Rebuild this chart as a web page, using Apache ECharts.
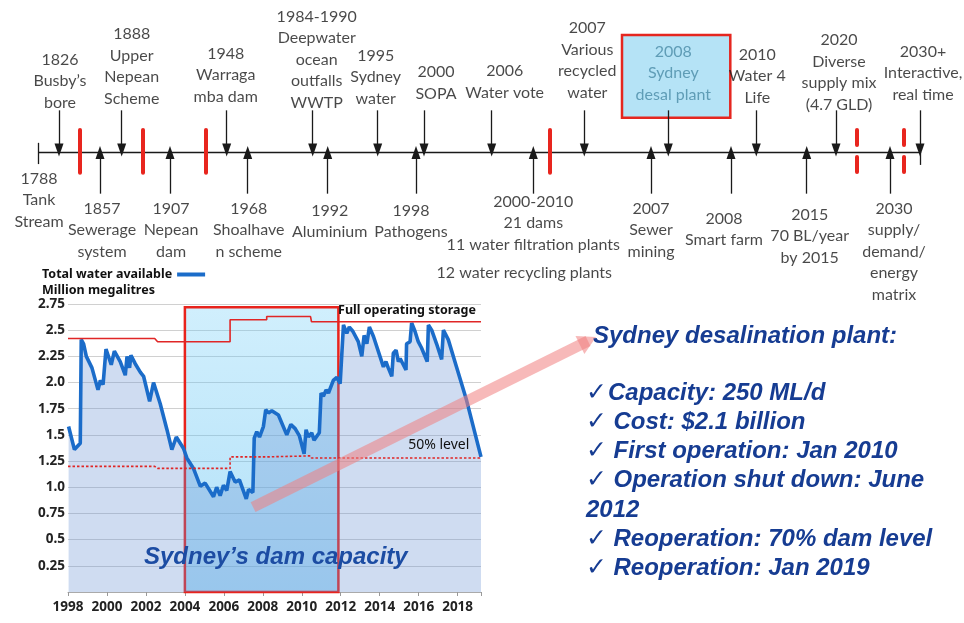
<!DOCTYPE html>
<html><head><meta charset="utf-8">
<script src="https://cdn.jsdelivr.net/npm/echarts@6/dist/echarts.min.js"></script>
<style>html,body{margin:0;padding:0;background:#fff}#c{width:964px;height:623px}</style>
</head><body><div id="c"></div>
<script>
// ---- Dam storage chart data ----
const waterYears = [1998.03,1998.33,1998.63,1998.68,1998.8,1998.94,1999.23,1999.54,1999.66,1999.8,1999.95,2000.22,2000.38,2000.68,2000.94,2001.03,2001.16,2001.23,2001.45,2001.71,2001.88,2002.19,2002.39,2002.73,2003.08,2003.33,2003.56,2003.93,2004.1,2004.44,2004.79,2005.04,2005.47,2005.63,2005.81,2005.98,2006.15,2006.32,2006.58,2006.8,2007.15,2007.27,2007.49,2007.56,2007.69,2007.83,2008.03,2008.15,2008.29,2008.46,2008.8,2009.23,2009.44,2009.66,2009.88,2010.12,2010.22,2010.34,2010.51,2010.63,2010.9,2010.99,2011.11,2011.25,2011.37,2011.62,2011.8,2011.97,2012.14,2012.31,2012.44,2012.62,2012.9,2013.08,2013.2,2013.34,2013.47,2013.68,2014.19,2014.32,2014.44,2014.62,2014.7,2014.84,2014.96,2015.05,2015.35,2015.38,2015.56,2015.64,2015.81,2015.98,2016.15,2016.44,2016.5,2016.67,2016.92,2017.18,2017.27,2017.52,2017.94,2018.46,2019.2];
const waterValues = [1.58,1.36,1.42,2.41,2.37,2.25,2.14,1.93,2.02,1.98,2.32,2.17,2.30,2.20,2.07,2.25,2.14,2.26,2.18,2.10,2.06,1.82,2.00,1.80,1.55,1.36,1.48,1.37,1.28,1.18,1.01,1.04,0.91,1.00,0.92,1.02,0.97,1.15,1.05,1.07,0.89,0.98,0.95,1.47,1.53,1.48,1.58,1.74,1.71,1.73,1.69,1.50,1.60,1.56,1.49,1.32,1.55,1.48,1.52,1.45,1.52,1.90,1.87,1.93,1.90,2.02,2.05,1.99,2.55,2.47,2.53,2.49,2.39,2.25,2.45,2.37,2.53,2.44,2.15,2.20,2.14,2.06,2.28,2.31,2.20,2.23,2.12,2.37,2.39,2.57,2.49,2.39,2.33,2.20,2.55,2.50,2.37,2.22,2.50,2.41,2.15,1.83,1.29];
const storageYears = [1998,2002.45,2002.6,2006.32,2006.32,2008.2,2008.2,2010.45,2010.5,2019.2];
const fullStorage = [2.42,2.42,2.39,2.39,2.60,2.60,2.63,2.63,2.58,2.58];
const halfStorage = [1.20,1.20,1.18,1.18,1.29,1.29,1.30,1.30,1.28,1.28];
const desalPeriod = [2004.0, 2011.88];
const xTickYears = [1998,2000,2002,2004,2006,2008,2010,2012,2014,2016,2018];

// ---- Timeline data (position along the timeline axis, 0 = 1788 start) ----
const topLabels = ['1826\nBusby’s\nbore','1888\nUpper\nNepean\nScheme','1948\nWarraga\nmba dam','1984-1990\nDeepwater\nocean\noutfalls\nWWTP','1995\nSydney\nwater','2000\nSOPA','2006\nWater vote','2007\nVarious\nrecycled\nwater','2008\nSydney\ndesal plant','2010\nWater 4\nLife','2020\nDiverse\nsupply mix\n(4.7 GLD)','2030+\nInteractive,\nreal time'];
const topAt = [2.1,8.37,18.87,27.47,33.97,38.6,45.37,54.63,63.03,71.83,79.8,88.2];
const topShift = [[1,3.4],[10,-0.5],[-1,-2.5],[4,3.4],[-2,-0.5],[12,-5.5],[13,-6.5],[3,-6.5],[5,-4.5],[1,-1.5],[3,5.5],[3,-4.5]];
const bottomLabels = ['1857\nSewerage\nsystem','1907\nNepean\ndam','1968\nShoalhave\nn scheme','1992\nAluminium','1998\nPathogens','2000-2010\n21 dams\n11 water filtration plants','2007\nSewer\nmining','2008\nSmart farm','2015\n70 BL/year\nby 2015','2030\nsupply/\ndemand/\nenergy\nmatrix'];
const bottomAt = [6.2,13.2,20.97,28.97,37.8,49.53,61.3,69.3,76.87,85.2];
const bottomShift = [[2,3.5],[1,3.5],[1,3.5],[2,5.5],[-5,5.5],[0,-3.5],[0,3.5],[-7,13.5],[3,9.5],[4,3.5]];
const startLabel = '1788\nTank\nStream';
const extraNote = '12 water recycling plants';
const extraNoteAt = 49.53;
const breakAt = [4.2,10.43,16.8,51.13];
const dashedBreakAt = [81.87,86.53];
const timelineEnd = 88.2;
const highlightIndex = 8;

// ---- Text panel ----
const desalTitle = 'Sydney desalination plant:';
const desalFacts = ['Capacity: 250 ML/d','Cost: $2.1 billion','First operation: Jan 2010','Operation shut down: June\n2012','Reoperation: 70% dam level','Reoperation: Jan 2019'];

const chart = echarts.init(document.getElementById('c'));
const tlFont = {fontFamily:'Lato', fontSize:16, lineHeight:21.5, color:'#1a1a1a'};
const blue = '#163c92';

const factsText = desalFacts.map((f,i)=> '{c|✓}' + (i===0?'':'{s| }') + f.split('\n').map(s=>'{t|'+s+'}').join('\n')).join('\n');

const labelData = [];
topLabels.forEach((t,i)=>labelData.push({name:t, value:[topAt[i],1], label:{position:'top', offset:topShift[i], color: i===highlightIndex ? '#4a8ba6' : '#1a1a1a'}}));
bottomLabels.forEach((t,i)=>labelData.push({name:t, value:[bottomAt[i],-1], label:{position:'bottom', offset:bottomShift[i]}}));
labelData.push({name:startLabel, value:[0,0], label:{position:'bottom', offset:[1,15.3]}});
labelData.push({name:extraNote, value:[extraNoteAt,-1], label:{position:'bottom', offset:[-9,68.3]}});

const arrowLines = [];
topAt.forEach(x=>arrowLines.push([{coord:[x,1]},{coord:[x,0.05]}]));
bottomAt.forEach(x=>arrowLines.push([{coord:[x,-1]},{coord:[x,-0.01]}]));
const breakLines = [];
breakAt.forEach(x=>breakLines.push([{coord:[x,0.53]},{coord:[x,-0.5]}]));
dashedBreakAt.forEach(x=>{breakLines.push([{coord:[x,0.53]},{coord:[x,0.17]}]);breakLines.push([{coord:[x,-0.12]},{coord:[x,-0.48]}]);});

const noEmph = {disabled:true};
const option = {
  animation:false,
  backgroundColor:'#fff',
  title:[
    {text:'Million megalitres', left:42, top:284, padding:0, textStyle:{fontFamily:'Noto Sans', fontWeight:'bold', fontSize:12.5, color:'#111'}},
    {text:'Sydney’s dam capacity', left:144, top:543, padding:0, textStyle:{fontFamily:'Liberation Sans', fontStyle:'italic', fontWeight:'bold', fontSize:24, lineHeight:28, color:'#1c4ca3'}},
    {text:desalTitle, left:593, top:322, padding:0, textStyle:{fontFamily:'Liberation Sans', fontStyle:'italic', fontWeight:'bold', fontSize:24, lineHeight:28, color:blue}},
    {text:factsText, left:586, top:378.5, padding:0, textStyle:{rich:{
      c:{fontFamily:'DejaVu Sans', fontSize:25, fontWeight:'normal', color:blue, lineHeight:29.2, padding:[0,1,0,0]},
      s:{fontFamily:'Liberation Sans', fontSize:20, lineHeight:29.2},
      t:{fontFamily:'Liberation Sans', fontStyle:'italic', fontWeight:'bold', fontSize:24, color:blue, lineHeight:29.2}
    }}}
  ],
  legend:{data:[{name:'Total water available', icon:'rect'}], left:42, top:268, align:'right', itemWidth:28, itemHeight:4, padding:0, selectedMode:false,
    textStyle:{fontFamily:'Noto Sans', fontWeight:'bold', fontSize:12.5, color:'#111'}},
  grid:[
    {left:68, right:483, top:304, bottom:31, outerBoundsMode:'none'},
    {left:38, right:44, top:2, height:300, outerBoundsMode:'none'}
  ],
  xAxis:[
    {type:'value', gridIndex:0, min:1998, max:2019.2, interval:2,
      axisLine:{show:true, lineStyle:{color:'#aaa'}}, axisTick:{show:true, length:4, lineStyle:{color:'#999'}},
      splitLine:{show:false},
      axisLabel:{margin:8, fontFamily:'Noto Sans', fontWeight:'bold', fontSize:13.5, color:'#222',
        formatter:v=> xTickYears.indexOf(v)>=0 ? String(v) : ''}},
    {type:'value', gridIndex:1, min:0, max:timelineEnd, show:false}
  ],
  yAxis:[
    {type:'value', gridIndex:0, min:0, max:2.75, interval:0.25,
      axisLine:{show:false}, axisTick:{show:false},
      splitLine:{show:true, lineStyle:{color:'#d0d0d0', width:1}},
      axisLabel:{margin:3, fontFamily:'Noto Sans', fontWeight:'bold', fontSize:13.5, color:'#222',
        formatter:v=> v===0 ? '' : (Math.abs(v-Math.round(v))<1e-9 ? v.toFixed(1) : String(+v.toFixed(2)))}},
    {type:'value', gridIndex:1, min:-3.6, max:3.6, show:false}
  ],
  series:[
    {name:'Total water available', type:'line', xAxisIndex:0, yAxisIndex:0, symbol:'none', z:2,
      data:waterYears.map((y,i)=>[y,waterValues[i]]),
      lineStyle:{color:'#1b6cc9', width:3.6}, itemStyle:{color:'#1b6cc9'},
      areaStyle:{color:'rgba(105,145,212,0.45)'}, emphasis:noEmph},
    {name:'Full operating storage', type:'line', xAxisIndex:0, yAxisIndex:0, symbol:'none', z:3,
      data:storageYears.map((y,i)=>[y,fullStorage[i]]),
      lineStyle:{color:'#e02626', width:1.6}, itemStyle:{color:'#e02626'}, emphasis:noEmph,
      markPoint:{symbol:'circle', symbolSize:0.1, itemStyle:{color:'rgba(0,0,0,0)'}, silent:true,
        data:[{coord:[2018.94,2.58], label:{show:true, position:'top', distance:5, align:'right', formatter:'Full operating storage',
          fontFamily:'Noto Sans', fontWeight:'bold', fontSize:12.5, color:'#111'}}]}},
    {name:'50% level', type:'line', xAxisIndex:0, yAxisIndex:0, symbol:'none', z:3,
      data:storageYears.map((y,i)=>[y,halfStorage[i]]),
      lineStyle:{color:'#e02626', width:1.6, type:[2.5,2]}, itemStyle:{color:'#e02626'}, emphasis:noEmph,
      markPoint:{symbol:'circle', symbolSize:0.1, itemStyle:{color:'rgba(0,0,0,0)'}, silent:true,
        data:[{coord:[2018.6,1.28], label:{show:true, position:'top', distance:6, align:'right', formatter:'50% level',
          fontFamily:'Noto Sans', fontWeight:'normal', fontSize:14, color:'#111'}}]}},
    {name:'desal', type:'line', xAxisIndex:0, yAxisIndex:0, data:[], z:5,
      markArea:{silent:true, itemStyle:{
          color:{type:'linear', x:0, y:0, x2:0, y2:1, colorStops:[{offset:0, color:'rgba(110,205,248,0.32)'},{offset:1, color:'rgba(80,185,240,0.45)'}]},
          borderColor:'#e8231c', borderWidth:2.5},
        data:[[{coord:[desalPeriod[0],0]},{coord:[desalPeriod[1],2.72]}]]}},
    {name:'pointer', type:'line', xAxisIndex:0, yAxisIndex:0, data:[], z:6, clip:false,
      markLine:{silent:true, symbol:['none','triangle'], symbolSize:[20,18], label:{show:false},
        lineStyle:{color:'rgba(240,128,128,0.55)', width:11, type:'solid'},
        data:[[{coord:[2007.5,0.81]},{x:588, y:341}]]}},
    // timeline
    {type:'line', xAxisIndex:1, yAxisIndex:1, data:[], z:1,
      markArea:{silent:true, itemStyle:{color:'#b5e3f6', borderColor:'#e5261f', borderWidth:2.5},
        data:[[{coord:[topAt[highlightIndex]-4.63,0.82]},{coord:[topAt[highlightIndex]+6.2,2.81]}]]}},
    {type:'line', xAxisIndex:1, yAxisIndex:1, data:[], z:2,
      markLine:{silent:true, symbol:['none','none'], label:{show:false}, lineStyle:{color:'#1a1a1a', width:1.3, type:'solid'},
        data:[[{coord:[0,0]},{coord:[timelineEnd,0]}],[{coord:[0,0.22]},{coord:[0,-0.29]}],[{coord:[timelineEnd,0]},{coord:[timelineEnd,-0.31]}]]}},
    {type:'line', xAxisIndex:1, yAxisIndex:1, data:[], z:2,
      markLine:{silent:true, symbol:['none','triangle'], symbolSize:[9,13], label:{show:false}, lineStyle:{color:'#1a1a1a', width:1.3, type:'solid'},
        data:arrowLines}},
    {type:'line', xAxisIndex:1, yAxisIndex:1, data:[], z:3,
      markLine:{silent:true, symbol:['none','none'], label:{show:false}, lineStyle:{color:'#e8251e', width:4, type:'solid', cap:'round'},
        data:breakLines}},
    {type:'scatter', xAxisIndex:1, yAxisIndex:1, z:4, symbolSize:1, itemStyle:{color:'rgba(0,0,0,0)'}, silent:true, emphasis:noEmph,
      label:Object.assign({show:true, formatter:'{b}', distance:0}, tlFont),
      data:labelData}
  ]
};
chart.setOption(option);
</script></body></html>
